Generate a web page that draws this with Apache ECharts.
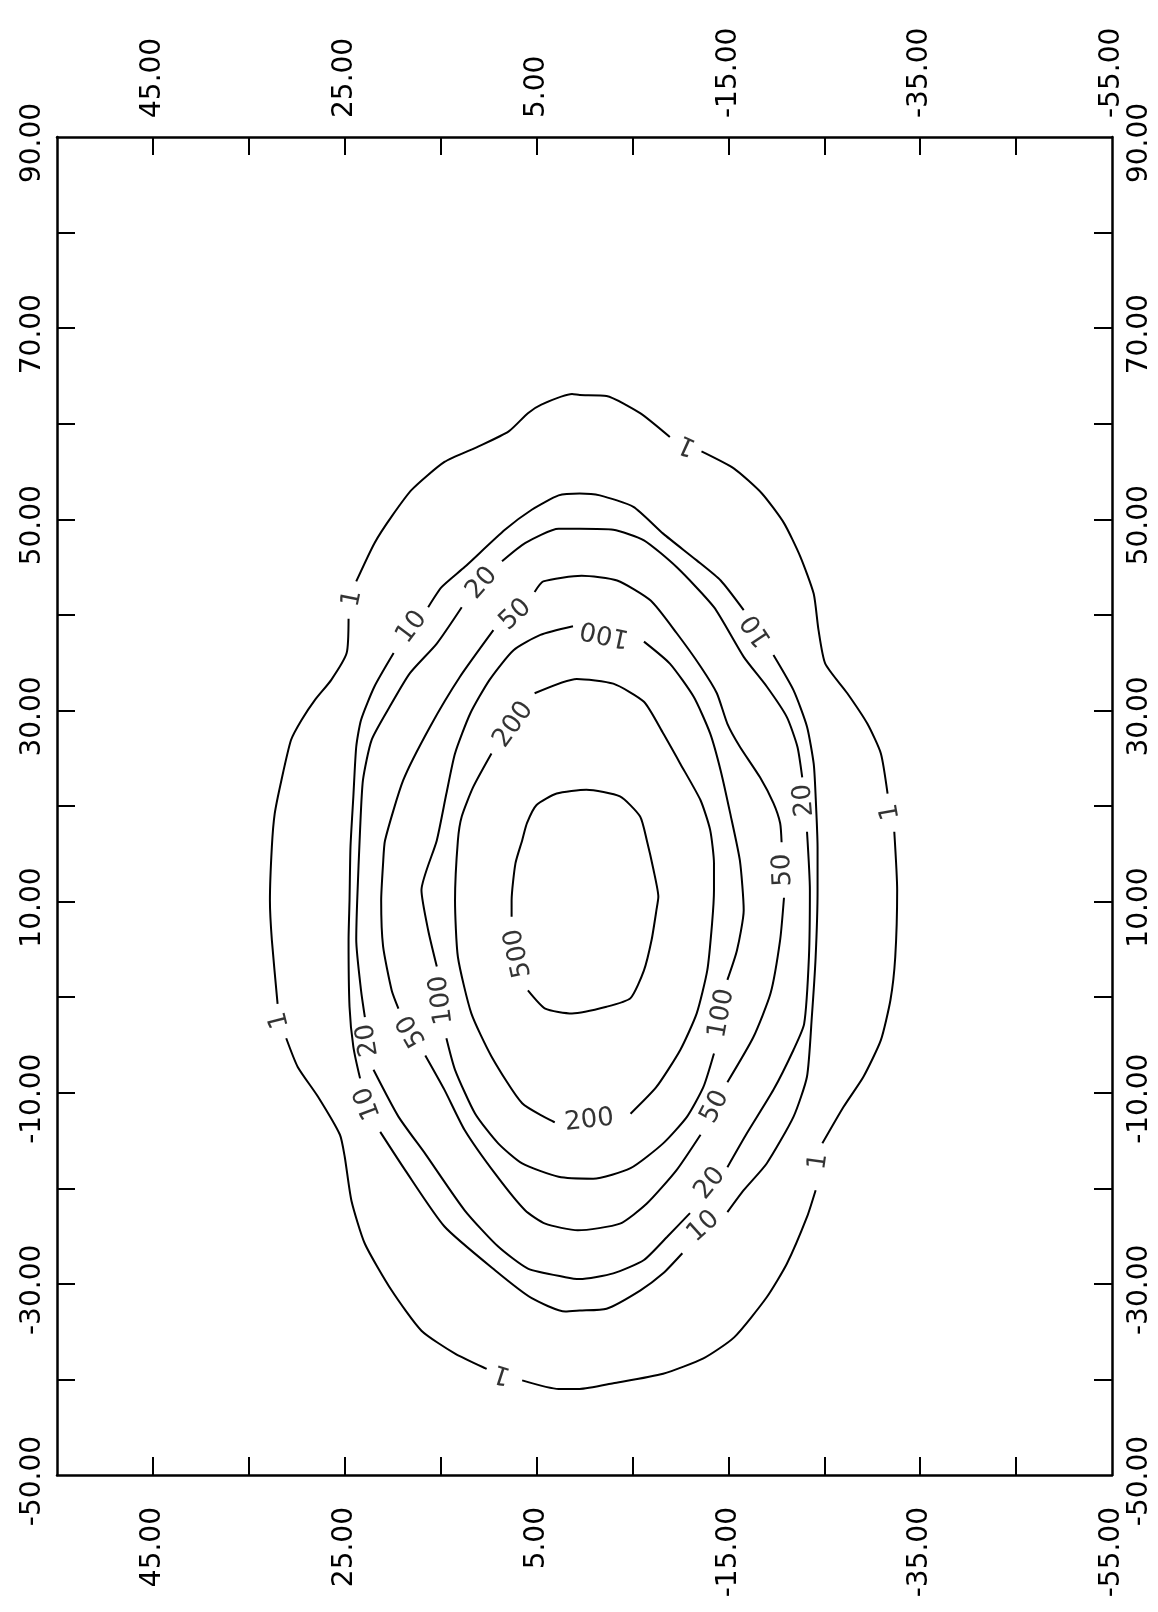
<!DOCTYPE html>
<html lang="en">
<head>
<meta charset="UTF-8">
<title>Contour</title>
<script src="https://cdn.jsdelivr.net/npm/echarts@6/dist/echarts.min.js"></script>
<style>html, body { margin: 0; padding: 0; background: #fff; }</style>
</head>
<body>
<div id="main" style="width:1158px;height:1612px;"></div>
<script>
// ticks and tick labels
var xTicks = [-45, -35, -25, -15, -5, 5, 15, 25, 35, 45];
var xLabels = [-55, -35, -15, 5, 25, 45];
var yTicks = [-40, -30, -20, -10, 0, 10, 20, 30, 40, 50, 60, 70, 80];
var yLabels = [-50, -30, -10, 10, 30, 50, 70, 90];

// contour levels and their lines, [x, y]
var levels = ['1', '10', '20', '50', '100', '200', '500'];
var c1 = [[0.5,63.0],[1.3,63.1],[4.5,62.0],[5.9,61.1],[7.9,59.2],[11.1,57.6],[14.6,56.0],[18.0,53.1],[20.1,50.3],[21.9,47.5],[23.8,43.5],[24.6,39.6],[24.8,36.0],[26.4,33.2],[28.1,31.1],[29.5,29.0],[30.6,26.9],[31.6,22.7],[32.3,19.2],[32.6,15.7],[32.8,10.1],[32.6,6.0],[32.0,-0.7],[31.1,-4.3],[29.9,-7.3],[27.8,-10.4],[25.5,-14.4],[25.0,-16.7],[24.3,-21.3],[22.9,-25.8],[20.1,-30.7],[17.0,-34.9],[13.5,-37.3],[10.2,-38.9],[6.5,-40.1],[2.7,-41.0],[0.5,-41.0],[-3.0,-40.4],[-8.2,-39.4],[-12.4,-37.8],[-15.6,-35.6],[-19.0,-31.4],[-21.1,-27.9],[-23.2,-23.0],[-24.1,-20.2],[-24.8,-15.3],[-27.0,-11.5],[-29.1,-8.3],[-30.9,-4.5],[-31.9,-0.3],[-32.4,4.2],[-32.6,11.2],[-32.3,17.3],[-31.6,21.3],[-30.9,25.5],[-29.5,28.6],[-27.4,31.8],[-25.1,34.9],[-24.4,38.4],[-23.9,42.2],[-22.5,46.1],[-20.8,49.6],[-18.5,52.7],[-15.6,55.3],[-12.2,57.1],[-8.9,58.6],[-5.8,61.1],[-2.3,62.9]];
var c10 = [[0.5,52.7],[2.7,52.5],[5.5,51.0],[8.3,48.9],[12.5,45.0],[14.9,42.9],[16.3,40.8],[19.9,36.0],[21.9,32.5],[23.3,29.0],[23.8,26.2],[24.1,21.0],[24.4,15.7],[24.5,10.1],[24.6,6.0],[24.5,-1.0],[24.1,-5.2],[23.4,-8.5],[21.3,-14.1],[18.7,-18.1],[14.6,-24.0],[9.3,-28.6],[5.5,-31.5],[2.0,-32.9],[0.5,-32.8],[-2.3,-32.6],[-5.8,-30.7],[-8.2,-28.9],[-10.2,-26.8],[-14.9,-22.5],[-16.6,-20.2],[-19.0,-17.4],[-21.8,-12.5],[-23.2,-8.3],[-23.7,-2.1],[-24.1,4.2],[-24.3,11.2],[-24.3,15.7],[-24.1,21.0],[-23.9,24.4],[-23.2,28.3],[-21.8,32.1],[-19.7,35.8],[-16.6,40.5],[-14.2,43.6],[-11.7,45.7],[-8.2,48.5],[-5.1,51.3],[-1.6,52.5]];
var c20 = [[0.5,49.0],[2.7,49.0],[6.2,47.5],[8.6,45.6],[12.8,40.8],[15.4,37.0],[18.2,33.9],[20.3,30.4],[22.2,26.9],[23.1,22.7],[23.4,17.5],[23.7,10.1],[23.8,6.0],[23.3,0.7],[22.9,-2.1],[22.0,-7.6],[19.4,-12.5],[16.6,-16.4],[12.5,-22.3],[9.0,-26.1],[5.9,-28.4],[2.0,-29.3],[0.5,-29.5],[-3.0,-28.9],[-6.2,-27.5],[-8.6,-25.1],[-11.0,-22.6],[-14.9,-17.8],[-16.9,-14.3],[-19.7,-9.7],[-21.8,-5.5],[-22.9,-2.8],[-23.4,4.2],[-23.5,11.2],[-23.2,17.3],[-22.7,23.0],[-22.2,26.2],[-21.1,29.3],[-19.0,32.5],[-16.6,35.6],[-13.5,40.8],[-9.6,45.0],[-6.2,47.8],[-3.0,48.9]];
var c50 = [[0.3,44.1],[4.3,43.5],[5.2,42.4],[9.5,38.4],[13.0,33.5],[16.1,28.3],[18.9,22.7],[20.8,16.4],[21.0,14.0],[21.2,10.1],[21.0,5.3],[20.1,0.7],[19.4,-1.2],[16.6,-6.1],[14.6,-9.7],[12.5,-13.9],[9.3,-18.5],[6.2,-22.3],[4.1,-23.7],[0.7,-24.4],[-3.7,-23.7],[-6.5,-21.6],[-9.6,-18.1],[-12.1,-14.4],[-14.9,-8.9],[-17.6,-4.2],[-19.4,0.4],[-20.4,6.0],[-20.8,10.4],[-20.55,16.2],[-20.4,18.2],[-19.7,20.3],[-18.3,23.0],[-16.2,26.2],[-14.9,28.6],[-13.8,31.8],[-12.1,34.6],[-9.6,38.1],[-6.9,41.5],[-3.4,43.6]];
var c100 = [[1.2,38.8],[4.6,37.9],[7.4,36.3],[9.9,33.2],[11.9,29.7],[13.5,25.5],[14.4,21.3],[15.4,16.4],[17.0,11.2],[16.3,7.0],[15.4,3.2],[14.4,-4.3],[13.5,-7.6],[11.4,-12.2],[9.0,-15.3],[6.5,-17.4],[2.7,-18.8],[-0.9,-19.0],[-4.8,-17.9],[-8.2,-15.3],[-10.7,-12.5],[-12.4,-9.4],[-13.5,-5.9],[-14.9,1.8],[-15.9,4.9],[-16.6,9.1],[-16.2,14.3],[-15.2,19.2],[-14.2,23.7],[-13.1,27.6],[-11.4,31.4],[-8.9,34.9],[-6.2,37.2]];
var c200 = [[0.8,33.3],[5.2,31.8],[9.7,25.5],[11.6,22.0],[12.8,18.9],[13.2,16.4],[13.5,10.1],[13.2,4.2],[11.8,-1.7],[9.7,-6.2],[6.5,-11.1],[3.1,-13.1],[-4.8,-12.2],[-7.5,-9.4],[-10.0,-5.5],[-11.7,-1.7],[-12.8,2.8],[-13.3,7.7],[-13.5,11.2],[-13.5,14.0],[-13.1,17.5],[-12.1,20.6],[-10.0,24.4],[-8.2,27.6],[-6.2,30.9],[-3.0,32.8]];
var c500 = [[-3.7,21.0],[-0.2,21.7],[2.9,21.3],[5.0,20.1],[6.0,18.2],[6.5,16.4],[7.2,14.0],[7.6,10.1],[7.6,8.4],[5.9,0.7],[4.1,-1.2],[1.3,-1.7],[-2.3,-1.0],[-4.8,-0.1],[-6.2,2.8],[-7.0,6.0],[-7.5,9.1],[-7.7,10.5],[-7.2,13.3],[-6.5,16.4],[-5.8,18.9]];

// where each level is labelled on its line
var lab1 = [[-10.7,57.8],[24.2,41.7],[31.8,-2.4],[8.6,-39.4],[-24.4,-17.2],[-31.9,19.4]];
var lab10 = [[18.0,38.7],[22.6,-11.1],[-12.4,-24.0],[-18.0,38.4]];
var lab20 = [[10.7,43.3],[22.6,-4.5],[-13.1,-19.5],[-22.9,20.6]];
var lab50 = [[7.2,40.0],[18.0,-3.5],[-13.6,-11.5],[-20.7,13.3]];
var lab100 = [[-2.1,38.1],[14.9,-0.3],[-14.3,-1.7]];
var lab200 = [[7.4,28.5],[-0.5,-12.9]];
var lab500 = [[6.9,4.6]];

var contours = [c1, c10, c20, c50, c100, c200, c500];
var labelSets = [lab1, lab10, lab20, lab50, lab100, lab200, lab500];

var FONT = 'DejaVu Sans';
var myChart = echarts.init(document.getElementById('main'));

function fmt(v) { return v.toFixed(2); }

function xAxisOpt(pos, margin, rot) {
    return {
        type: 'value', position: pos, min: -55, max: 55, inverse: true,
        axisLine: { onZero: false, lineStyle: { color: '#000', width: 2.5 } },
        axisTick: { inside: true, length: 18, customValues: xTicks, lineStyle: { color: '#000', width: 2 } },
        axisLabel: { customValues: xLabels, rotate: rot, margin: margin, formatter: fmt,
            fontFamily: FONT, fontSize: 28, color: '#000' },
        splitLine: { show: false }
    };
}
function yAxisOpt(pos, margin) {
    return {
        type: 'value', position: pos, min: -50, max: 90,
        axisLine: { onZero: false, lineStyle: { color: '#000', width: 2.5 } },
        axisTick: { inside: true, length: 18, customValues: yTicks, lineStyle: { color: '#000', width: 2 } },
        axisLabel: { customValues: yLabels, rotate: 90, margin: margin, formatter: fmt,
            padding: [0, 12, 0, 0],
            fontFamily: FONT, fontSize: 28, color: '#000' },
        splitLine: { show: false }
    };
}

myChart.setOption({
    animation: false,
    backgroundColor: '#fff',
    grid: { left: 57, right: 46, top: 137, bottom: 137, outerBoundsMode: 'none' },
    xAxis: [xAxisOpt('bottom', 32, 90), xAxisOpt('top', 19, -90)],
    yAxis: [yAxisOpt('left', 10), yAxisOpt('right', 14)],
    series: []
});

function px(p) {
    return myChart.convertToPixel({ xAxisIndex: 0, yAxisIndex: 0 }, p);
}
function segDist(p, a, b) {
    var dx = b[0] - a[0], dy = b[1] - a[1];
    var t = ((p[0] - a[0]) * dx + (p[1] - a[1]) * dy) / (dx * dx + dy * dy);
    t = Math.max(0, Math.min(1, t));
    var qx = a[0] + t * dx - p[0], qy = a[1] + t * dy - p[1];
    return Math.sqrt(qx * qx + qy * qy);
}
function nearestSeg(pts, p) {
    var m = pts.length, best = 0, bd = Infinity;
    for (var j = 0; j < m; j++) {
        var d = segDist(p, pts[j], pts[(j + 1) % m]);
        if (d < bd) { bd = d; best = j; }
    }
    return best;
}

var series = [];
var labelData = [];
contours.forEach(function (pts, ci) {
    var m = pts.length;
    var cuts = labelSets[ci].map(function (l) { return nearestSeg(pts, l); });
    // label text follows its line, kept in [0, 180) degrees
    labelSets[ci].forEach(function (l, k) {
        var j = cuts[k];
        var a = px(pts[j]), b = px(pts[(j + 1) % m]);
        var ang = Math.atan2(-(b[1] - a[1]), b[0] - a[0]) * 180 / Math.PI;
        ang = ((ang % 180) + 180) % 180;
        labelData.push({ name: levels[ci], value: l, label: { rotate: ang } });
    });
    // break the closed line at every label
    cuts.sort(function (a, b) { return a - b; });
    for (var k = 0; k < cuts.length; k++) {
        var s = (cuts[k] + 1) % m, e = cuts[(k + 1) % cuts.length];
        var piece = [pts[s]], i = s;
        while (i !== e) { i = (i + 1) % m; piece.push(pts[i]); }
        series.push({
            type: 'line', data: piece, symbol: 'none', smooth: 0.2, silent: true,
            lineStyle: { color: '#000', width: 2 }
        });
    }
});

series.push({
    type: 'scatter', data: labelData, symbolSize: 2, silent: true, z: 5,
    itemStyle: { color: 'rgba(0,0,0,0)' },
    label: {
        show: true, position: 'inside', formatter: '{b}',
        fontFamily: FONT, fontSize: 26, color: '#000'
    }
});

myChart.setOption({ series: series });
</script>
</body>
</html>
